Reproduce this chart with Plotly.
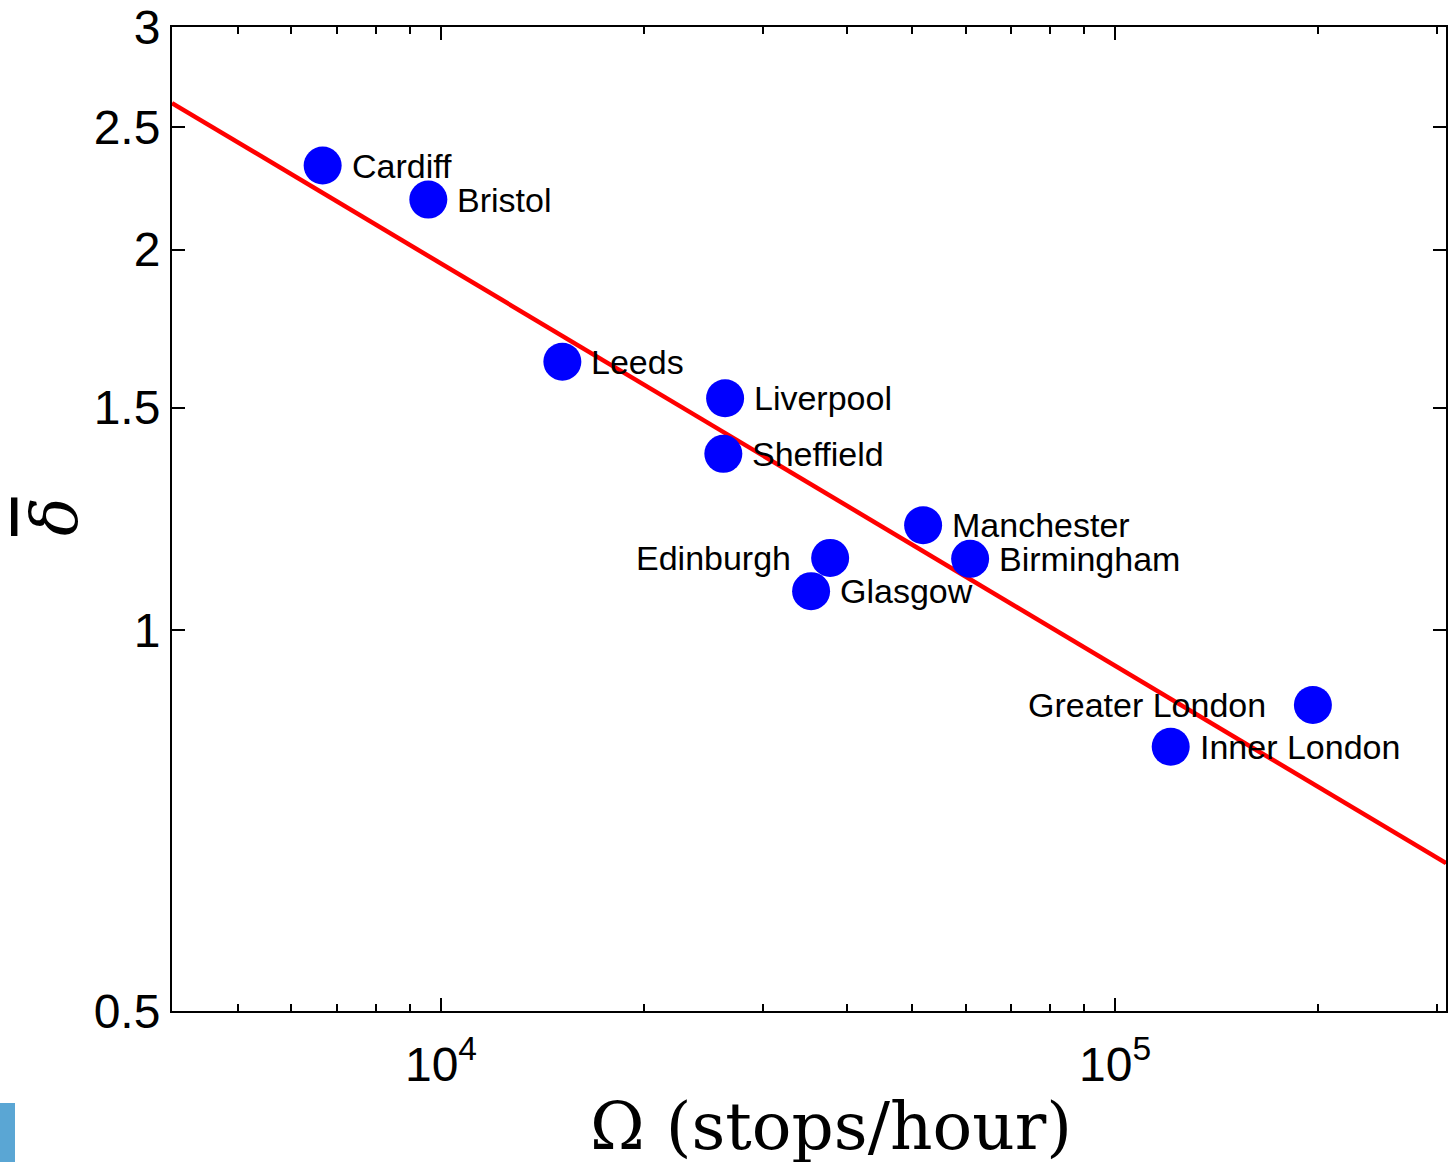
import numpy as np
import plotly.graph_objects as go

# ---- data ----
cities = ["Cardiff", "Bristol", "Leeds", "Liverpool", "Sheffield", "Manchester",
          "Birmingham", "Edinburgh", "Glasgow", "Greater London", "Inner London"]
omega = [6675, 9576, 15136, 26390, 26230, 51900, 60940, 37780, 35400, 196500, 120900]
delta_bar = [2.331, 2.191, 1.631, 1.526, 1.379, 1.211, 1.139, 1.141, 1.074, 0.873, 0.809]

fit_omega = [3990, 309600]
fit_delta = [2.612, 0.6545]

y_ticks = [0.5, 1, 1.5, 2, 2.5, 3]
y_ticktext = ["0.5", "1", "1.5", "2", "2.5", "3"]
x_ticks = [1e4, 1e5]
x_ticktext = ["10<sup>4</sup>", "10<sup>5</sup>"]
x_minor = [5000, 6000, 7000, 8000, 9000, 20000, 30000, 40000, 50000, 60000,
           70000, 80000, 90000, 200000, 300000]

x_title = "Ω (stops/hour)"
y_title = '<span style="text-decoration:overline">δ</span>'

# label placement (style)
label_side = {"Edinburgh": "left", "Greater London": "left"}
label_gap = {"Edinburgh": 37, "Greater London": 45}

fig = go.Figure()
fig.add_trace(go.Scatter(x=fit_omega, y=fit_delta, mode="lines",
                         line=dict(color="#ff0000", width=4.5), showlegend=False,
                         hoverinfo="skip"))
fig.add_trace(go.Scatter(x=omega, y=delta_bar, mode="markers",
                         marker=dict(color="#0000ff", size=38, line=dict(width=0)),
                         showlegend=False))

for c, xv, yv in zip(cities, omega, delta_bar):
    side = label_side.get(c, "right")
    gap = label_gap.get(c, 27)
    fig.add_annotation(x=np.log10(xv), y=np.log10(yv), xref="x", yref="y",
                       text=c, showarrow=False,
                       xanchor="left" if side == "right" else "right",
                       yanchor="middle",
                       xshift=gap if side == "right" else -gap, yshift=0,
                       font=dict(family="Liberation Sans, Arial, sans-serif", size=34, color="black"))

# axis titles
fig.add_annotation(x=0.5, y=(1011 - 1126) / 984, xref="paper", yref="paper",
                   xshift=22, text=x_title, showarrow=False,
                   xanchor="center", yanchor="middle",
                   font=dict(family="DejaVu Serif, Liberation Serif, serif", size=66, color="black"))
fig.add_annotation(x=(54 - 172) / 1274, y=0.5, xref="paper", yref="paper",
                   yshift=2, text=y_title, showarrow=False, textangle=-90,
                   xanchor="center", yanchor="middle",
                   font=dict(family="DejaVu Serif, serif", size=64, color="black", style="italic"))

axis_common = dict(showline=True, linecolor="black", linewidth=2, mirror="ticks",
                   ticks="inside", tickcolor="black", tickwidth=1.5,
                   showgrid=False, zeroline=False,
                   tickfont=dict(family="Liberation Sans, Arial, sans-serif", size=48, color="black"))

fig.update_xaxes(type="log", range=[np.log10(fit_omega[0]), np.log10(fit_omega[1])],
                 tickmode="array", tickvals=x_ticks, ticktext=x_ticktext, ticklen=13,
                 ticklabelstandoff=10,
                 minor=dict(tickmode="array", tickvals=x_minor, ticks="inside", ticklen=7,
                            tickcolor="black", tickwidth=1.5, showgrid=False),
                 automargin=False, **axis_common)
fig.update_yaxes(type="log", range=[np.log10(0.5), np.log10(3)],
                 tickmode="array", tickvals=y_ticks, ticktext=y_ticktext, ticklen=13,
                 automargin=False, **axis_common)

fig.add_shape(type="rect", xref="paper", yref="paper",
              x0=(0 - 172) / 1274, x1=(15 - 172) / 1274,
              y0=(1011 - 1170) / 984, y1=(1011 - 1103) / 984,
              fillcolor="#5aa6d4", line=dict(width=0), layer="above")

fig.update_layout(width=1452, height=1162,
                  margin=dict(l=172, r=6, t=27, b=151, autoexpand=False),
                  paper_bgcolor="white", plot_bgcolor="white")

fig.write_html("out.html")
